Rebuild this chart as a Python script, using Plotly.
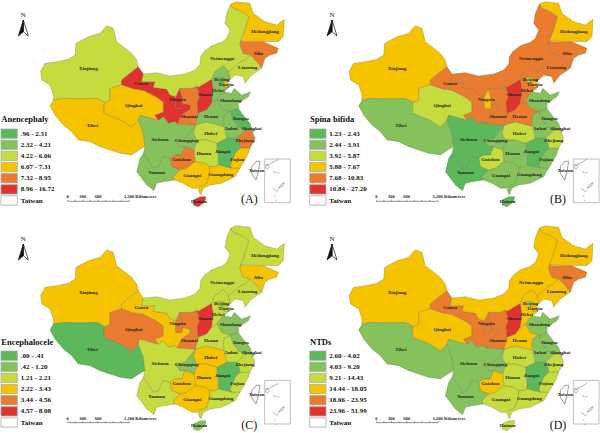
import plotly.graph_objects as go

# Province outlines (map units: 3 per reference pixel)
xinjiang = [(122,213),(135,190),(170,185),(205,178),(225,165),(228,130),(265,110),(300,100),(320,77),(340,85),(350,125),(395,160),(410,180),(415,200),(395,215),(365,240),(365,254),(330,266),(330,301),(314,308),(290,295),(240,297),(190,295),(160,300),(160,285),(150,255),(125,240)]
tibet = [(150,318),(160,300),(190,295),(240,297),(290,295),(314,308),(312,316),(312,340),(340,351),(365,361),(395,381),(415,360),(430,400),(435,440),(420,448),(395,465),(360,460),(330,450),(300,440),(270,425),(235,420),(215,395),(190,375),(165,345)]
qinghai = [(314,308),(330,301),(330,266),(365,254),(400,266),(430,271),(470,291),(490,306),(490,336),(465,346),(475,361),(440,351),(420,346),(415,360),(395,381),(365,361),(340,351),(312,340),(312,316)]
gansu = [(365,240),(395,215),(415,200),(430,222),(425,245),(465,245),(460,262),(500,268),(510,285),(527,290),(527,325),(545,326),(548,310),(570,315),(570,328),(545,345),(532,372),(525,365),(505,370),(490,350),(475,361),(465,346),(490,336),(490,306),(470,291),(430,271),(400,266),(365,254)]
ningxia = [(527,290),(539,265),(546,290),(548,310),(545,326),(527,325)]
shaanxi = [(575,265),(590,258),(600,285),(592,310),(595,340),(590,360),(586,376),(532,372),(545,345),(570,328),(570,315),(548,310),(546,290),(539,265)]
shanxi = [(595,262),(635,238),(640,270),(635,310),(620,330),(595,340),(592,310),(600,285),(590,258)]
neimenggu = [(430,222),(470,218),(510,228),(555,222),(585,210),(600,193),(602,170),(612,155),(635,137),(665,127),(680,115),(690,90),(675,70),(680,40),(692,12),(700,25),(725,35),(747,50),(735,90),(722,123),(720,135),(730,160),(750,165),(735,180),(715,190),(700,205),(685,215),(670,197),(645,215),(635,238),(595,262),(590,258),(575,265),(539,265),(527,290),(510,285),(500,268),(460,262),(465,245),(425,245)]
heilongjiang = [(692,12),(710,5),(750,10),(760,40),(795,65),(830,75),(853,58),(850,110),(835,125),(790,125),(735,125),(722,123),(735,90),(747,50),(725,35),(700,25)]
jilin = [(735,125),(790,125),(835,145),(830,160),(810,165),(795,175),(785,205),(770,185),(750,165),(730,160),(720,135),(722,123)]
liaoning = [(685,215),(700,205),(715,190),(735,180),(750,165),(770,185),(785,205),(755,225),(735,250),(730,230),(705,225),(690,240)]
hebei = [(635,238),(645,215),(670,197),(685,215),(690,240),(680,250),(688,262),(670,275),(650,300),(635,310),(640,270)]
beijing = [(652,232),(670,232),(680,240),(672,248),(655,245)]
tianjin = [(672,248),(680,240),(684,250),(686,262),(672,262)]
shandong = [(650,300),(670,275),(695,280),(702,265),(725,285),(752,275),(745,290),(715,310),(715,325),(690,335),(665,325)]
henan = [(595,340),(620,330),(635,310),(650,300),(665,325),(690,335),(672,345),(670,365),(672,380),(654,375),(620,366),(586,376),(590,360)]
jiangsu = [(690,335),(715,325),(725,340),(750,370),(755,385),(750,390),(735,392),(715,380),(700,360)]
anhui = [(672,345),(690,335),(700,360),(715,380),(735,392),(710,415),(680,415),(672,380),(670,365)]
shanghai = [(750,390),(755,385),(762,390),(758,398)]
zhejiang = [(715,420),(710,415),(735,392),(750,390),(758,398),(765,415),(750,445),(720,445)]
fujian = [(720,445),(750,445),(745,460),(735,480),(720,505),(695,505),(690,495),(705,460)]
jiangxi = [(650,430),(680,415),(710,415),(715,420),(720,445),(705,460),(690,495),(695,505),(655,495),(655,475)]
hubei = [(586,376),(620,366),(654,375),(672,380),(680,415),(650,430),(620,420),(590,420),(580,400)]
hunan = [(590,420),(620,420),(650,430),(655,475),(655,495),(645,500),(630,500),(615,490),(585,485),(585,475),(582,450)]
chongqing = [(525,421),(555,415),(586,376),(580,400),(590,420),(582,450),(555,440),(540,440)]
sichuan = [(420,346),(440,351),(475,361),(490,350),(505,370),(525,365),(532,372),(586,376),(555,415),(525,421),(540,440),(555,440),(545,465),(525,465),(510,475),(490,470),(475,500),(460,505),(445,480),(430,460),(435,440),(430,400),(415,360)]
guizhou = [(510,475),(525,465),(545,465),(555,440),(582,450),(585,475),(585,485),(560,505),(540,510),(515,500)]
yunnan = [(430,460),(445,480),(460,505),(475,500),(490,470),(510,475),(515,500),(540,510),(520,530),(525,540),(490,545),(470,550),(462,572),(440,555),(425,535),(410,515),(420,475)]
guangxi = [(520,530),(540,510),(560,505),(585,485),(615,490),(630,500),(630,520),(620,550),(600,560),(595,565),(575,565),(550,550),(525,540)]
guangdong = [(630,500),(645,500),(655,495),(695,505),(720,505),(705,530),(665,550),(630,555),(610,565),(602,585),(595,570),(600,560),(620,550),(630,520)]
hainan = [(580,600),(600,590),(618,590),(615,605),(595,620),(580,615)]
taiwan = [(755,500),(770,483),(780,485),(775,515),(768,540),(755,520)]

provinces = [xinjiang,tibet,qinghai,gansu,ningxia,shaanxi,shanxi,neimenggu,heilongjiang,jilin,liaoning,hebei,beijing,tianjin,shandong,henan,jiangsu,anhui,shanghai,zhejiang,fujian,jiangxi,hubei,hunan,chongqing,sichuan,guizhou,yunnan,guangxi,guangdong,hainan]

# Class index (0 = lowest) for each province, same order as `provinces`
classes_a = [2,3,3,5,5,4,5,2,3,4,2,1,1,3,1,1,0,1,1,4,3,0,2,2,1,1,4,1,3,3,5]
classes_b = [3,1,2,4,3,4,5,4,3,4,4,4,2,3,1,4,1,1,1,2,1,0,2,1,1,0,2,0,1,1,0]
classes_c = [3,0,4,3,4,4,5,2,2,3,2,2,2,2,1,2,1,2,1,2,2,0,3,3,1,2,3,2,3,2,1]
classes_d = [3,1,3,4,4,4,5,3,3,4,3,3,2,3,1,3,1,1,1,2,2,0,2,2,1,1,3,1,2,2,2]

label_names = ["Xinjiang","Tibet","Qinghai","Gansu","Ningxia","Shaanxi","Shanxi","Neimenggu","Heilongjiang","Jilin","Liaoning","Beijing","Tianjin","Hebei","Shandong","Henan","Jiangsu","Anhui","Shanghai","Zhejiang","Fujian","Jiangxi","Hubei","Hunan","Chongqing","Sichuan","Guizhou","Yunnan","Guangxi","Guangdong","Hainan","Taiwan"]
label_x = [265,277,401,424,533,568,616,667,795,775,743,665,678,655,692,633,722,693,755,735,712,668,632,612,560,480,545,470,577,662,597,770]
label_y = [207,377,318,251,298,350,285,177,95,160,204,238,253,273,301,351,356,385,385,422,478,456,402,460,422,420,478,517,528,525,605,512]

colors = ["#5CB85A","#85C25B","#C6DB3E","#F6C300","#EB7B2F","#E0332F"]

title_a = "Anencephaly"
title_b = "Spina bifida"
title_c = "Encephalocele"
title_d = "NTDs"
ranges_a = [".96 - 2.31","2.32 - 4.21","4.22 - 6.06","6.07 - 7.31","7.32 - 8.95","8.96 - 16.72","Taiwan"]
ranges_b = ["1.23 - 2.43","2.44 - 3.91","3.92 - 5.87","5.88 - 7.67","7.68 - 10.83","10.84 - 27.20","Taiwan"]
ranges_c = [".00 - .41",".42 - 1.20","1.21 - 2.21","2.22 - 3.43","3.44 - 4.56","4.57 - 8.08","Taiwan"]
ranges_d = ["2.60 - 4.02","4.03 - 9.20","9.21 - 14.43","14.44 - 18.05","18.06 - 23.95","23.96 - 51.99","Taiwan"]
panel_tags = ["(A)","(B)","(C)","(D)"]

inset_islands_x = [[798,815,835],[796,800,808,802,796],[820,830],[832,838],[835,845,853,848,835],[818,830,835],[822,826],[826,830]]
inset_islands_y = [[498,488,478],[500,492,500,508,500],[515,518],[520,518],[565,552,548,558,565],[565,575,570],[585,590],[600,602]]

SERIF = "Liberation Serif"
fig = go.Figure()
panels = [("x","y",classes_a,title_a,ranges_a,0,360,402,33.4,604,600),
          ("x2","y2",classes_b,title_b,ranges_b,1,360,402,33.4,604,600),
          ("x3","y3",classes_c,title_c,ranges_c,2,356,396,33.4,596,606),
          ("x4","y4",classes_d,title_d,ranges_d,3,356,396,33.4,596,606)]

for xa, ya, cls, title, rng, tagi, ty, ly0, dly, sy, tagy in panels:
    common = dict(xaxis=xa, yaxis=ya, hoverinfo="skip", showlegend=False)
    for poly, c in zip(provinces, cls):
        fig.add_trace(go.Scatter(x=[p[0] for p in poly]+[poly[0][0]], y=[p[1] for p in poly]+[poly[0][1]],
                                 mode="lines", fill="toself", fillcolor=colors[c],
                                 line=dict(color="rgba(90,100,70,0.55)", width=0.5), **common))
    # Taiwan (no data)
    fig.add_trace(go.Scatter(x=[p[0] for p in taiwan]+[taiwan[0][0]], y=[p[1] for p in taiwan]+[taiwan[0][1]],
                             mode="lines", fill="toself", fillcolor="white", line=dict(color="#555", width=0.6), **common))
    # province labels
    fig.add_trace(go.Scatter(x=label_x, y=label_y, mode="text", text=label_names, cliponaxis=False,
                             textfont=dict(family=SERIF, size=5, color="#222", weight="bold"), **common))
    # inset
    for ix, iy in zip(inset_islands_x, inset_islands_y):
        fig.add_trace(go.Scatter(x=ix, y=iy, mode="lines", line=dict(color="#666", width=0.5), **common))
    # north arrow
    fig.add_trace(go.Scatter(x=[70,85,70,70], y=[60,108,95,60], mode="lines", fill="toself", fillcolor="white", line=dict(color="#111", width=0.7), **common))
    fig.add_trace(go.Scatter(x=[70,55,70,70], y=[60,108,95,60], mode="lines", fill="toself", fillcolor="#111", line=dict(color="#111", width=0.7), **common))
    # scale bar
    fig.add_trace(go.Scatter(x=[203,388], y=[sy,sy], mode="lines", line=dict(color="#444", width=0.6), **common))
    # legend labels
    ys = [ly0 + i*dly for i in range(len(rng))]
    fig.add_trace(go.Scatter(x=[62]*len(rng), y=ys, mode="text", text=rng, textposition="middle right", cliponaxis=False,
                             textfont=dict(family=SERIF, size=7, color="#111", weight="bold"), **common))
    fig.add_trace(go.Scatter(x=[4], y=[ty], mode="text", text=[title], textposition="middle right", cliponaxis=False,
                             textfont=dict(family=SERIF, size=8.5, color="#111", weight="bold"), **common))
    fig.add_trace(go.Scatter(x=[70], y=[46], mode="text", text=["N"], cliponaxis=False,
                             textfont=dict(family=SERIF, size=7, color="#111"), **common))
    fig.add_trace(go.Scatter(x=[748], y=[tagy], mode="text", text=[panel_tags[tagi]], cliponaxis=False,
                             textfont=dict(family=SERIF, size=12, color="#111"), **common))
    fig.add_trace(go.Scatter(x=[203,248,294,372], y=[sy-12]*4, mode="text", text=["0","300","600","1,200 Kilometers"],
                             textposition=["middle center","middle center","middle center","middle right"], cliponaxis=False,
                             textfont=dict(family=SERIF, size=4.5, color="#222", weight="bold"), **common))
    xr = xa; yr = ya
    for i in range(7):
        fig.add_shape(type="rect", xref=xr, yref=yr, x0=3, x1=52, y0=ys[i]-15, y1=ys[i]+13,
                      fillcolor=colors[i] if i < 6 else "white", line=dict(color="#aaa", width=0.8))
    fig.add_shape(type="rect", xref=xr, yref=yr, x0=794, x1=871, y0=sy-127, y1=sy+4, line=dict(color="#999", width=0.6))
    for tx in [203,226,248,271,294,317,340,363,388]:
        fig.add_shape(type="line", xref=xr, yref=yr, x0=tx, x1=tx, y0=sy-5, y1=sy, line=dict(color="#444", width=0.5))

split = 1 - 216/433
def ax(domain, rng):
    return dict(domain=domain, range=rng, visible=False, fixedrange=True)
fig.update_layout(
    width=600, height=433, margin=dict(l=0,r=0,t=0,b=0), paper_bgcolor="white", plot_bgcolor="white",
    xaxis=ax([0,0.5],[0,900]), yaxis=ax([split,1],[648,0]),
    xaxis2=ax([0.5,1],[-26,874]), yaxis2=ax([split,1],[648,0]),
    xaxis3=ax([0,0.5],[0,900]), yaxis3=ax([0,split],[627,-24]),
    xaxis4=ax([0.5,1],[-26,874]), yaxis4=ax([0,split],[627,-24]),
)
fig.write_html("out.html", post_script="document.body.style.margin='0';document.documentElement.style.overflow='hidden';", config={"displayModeBar": False})
